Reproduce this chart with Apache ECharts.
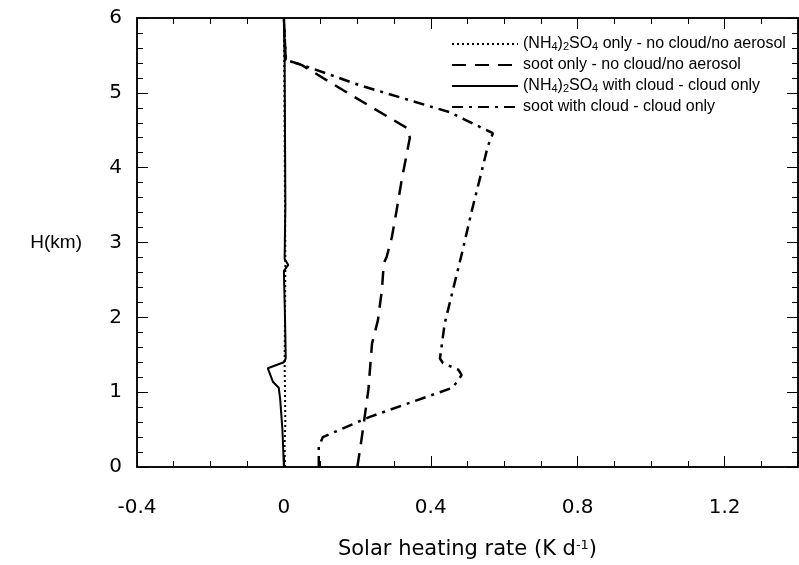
<!DOCTYPE html>
<html>
<head>
<meta charset="utf-8">
<script src="https://cdn.jsdelivr.net/npm/echarts@6/dist/echarts.min.js"></script>
<style>
html,body{margin:0;padding:0;background:#fff;}
#chart{width:799px;height:565px;}
</style>
</head>
<body>
<div id="chart"></div>
<script>
// ---- data ----
var seriesNames = [
  '(NH4)2SO4 only - no cloud/no aerosol',
  'soot only - no cloud/no aerosol',
  '(NH4)2SO4 with cloud - cloud only',
  'soot with cloud - cloud only'
];
var legendRich = [
  '(NH{s|4}){s|2}SO{s|4} only - no cloud/no aerosol',
  'soot only - no cloud/no aerosol',
  '(NH{s|4}){s|2}SO{s|4} with cloud - cloud only',
  'soot with cloud - cloud only'
];
var xTickLabels = ['-0.4', '0', '0.4', '0.8', '1.2'];
var yTickLabels = ['0', '1', '2', '3', '4', '5', '6'];

// (NH4)2SO4 only - no cloud/no aerosol
var ammOnlyH    = [0, 0.3, 0.6, 1.0, 1.4, 2.0, 2.7, 3.5, 4.5, 5.45, 6];
var ammOnlyRate = [0.003, 0.002, 0.004, 0.003, 0.002, 0.003, 0.004, 0.003, 0.002, 0.001, 0];

// soot only - no cloud/no aerosol
var sootOnlyH    = [0, 0.32, 0.67, 1.03, 1.65, 1.96, 2.37, 2.72, 2.81, 3.07, 3.43, 3.84, 4.40, 4.53, 4.95, 5.37, 5.44, 6];
var sootOnlyRate = [0.20, 0.21, 0.22, 0.23, 0.24, 0.256, 0.267, 0.272, 0.28, 0.294, 0.307, 0.321, 0.343, 0.335, 0.19, 0.049, 0.005, 0.0];

// (NH4)2SO4 with cloud - cloud only
var ammCloudH    = [0, 0.5, 0.9, 1.06, 1.14, 1.32, 1.40, 1.45, 2.0, 2.62, 2.7, 2.78, 3.5, 4.5, 5.45, 6];
var ammCloudRate = [0.0, -0.004, -0.01, -0.014, -0.03, -0.044, 0.0, 0.005, 0.003, 0.0, 0.012, 0.002, 0.004, 0.003, 0.002, 0.0];

// soot with cloud - cloud only
var sootCloudH    = [0, 0.27, 0.40, 0.67, 1.06, 1.23, 1.30, 1.39, 1.45, 1.92, 2.46, 2.90, 3.43, 3.84, 4.28, 4.46, 4.74, 5.1, 5.37, 5.44, 6];
var sootCloudRate = [0.095, 0.095, 0.106, 0.234, 0.46, 0.484, 0.475, 0.433, 0.425, 0.438, 0.465, 0.487, 0.512, 0.533, 0.555, 0.569, 0.452, 0.207, 0.052, 0.005, 0.0];

function pairs(rates, hs) {
  var out = [];
  for (var i = 0; i < hs.length; i++) out.push([rates[i], hs[i]]);
  return out;
}

var FONT = '"Liberation Sans", Arial, Helvetica, sans-serif';
var WIDE = '"DejaVu Sans", Verdana, sans-serif';
var BLACK = '#000';

function xAx(pos, interval, tickLen, showLabel) {
  return {
    type: 'value', position: pos, min: -0.4, max: 1.4, interval: interval,
    axisLine: { show: true, onZero: false, lineStyle: { color: BLACK, width: 1.5 } },
    axisTick: { show: true, inside: true, length: tickLen, lineStyle: { color: BLACK, width: 1 } },
    splitLine: { show: false },
    axisLabel: showLabel ? {
      show: true, margin: 31, color: BLACK, fontSize: 20, fontFamily: WIDE,
      showMaxLabel: false,
      formatter: function (v) {
        var i = Math.round((v + 0.4) / 0.4);
        return xTickLabels[i] !== undefined ? xTickLabels[i] : '';
      }
    } : { show: false }
  };
}
function yAx(pos, interval, tickLen, showLabel) {
  return {
    type: 'value', position: pos, min: 0, max: 6, interval: interval,
    axisLine: { show: true, onZero: false, lineStyle: { color: BLACK, width: 1.5 } },
    axisTick: { show: true, inside: true, length: tickLen, lineStyle: { color: BLACK, width: 1 } },
    splitLine: { show: false },
    axisLabel: showLabel ? {
      show: true, margin: 15, color: BLACK, fontSize: 20, fontFamily: WIDE,
      formatter: function (v) { return yTickLabels[Math.round(v)]; }
    } : { show: false }
  };
}

var xAxes = [
  xAx('bottom', 0.4, 11, true),
  xAx('bottom', 0.1, 6, false),
  xAx('top', 0.4, 11, false),
  xAx('top', 0.1, 6, false)
];
xAxes[0].name = 'Solar heating rate (K d{sup|-1})';
xAxes[0].nameLocation = 'middle';
xAxes[0].nameGap = 72;
xAxes[0].nameTextStyle = {
  color: BLACK, fontSize: 21, fontFamily: WIDE,
  rich: { sup: { fontSize: 13, verticalAlign: 'top', color: BLACK, fontFamily: WIDE } }
};

var yAxes = [
  yAx('left', 1, 11, true),
  yAx('left', 0.2, 6, false),
  yAx('right', 1, 11, false),
  yAx('right', 0.2, 6, false)
];
yAxes[0].name = 'H(km)';
yAxes[0].nameLocation = 'middle';
yAxes[0].nameRotate = 0;
yAxes[0].nameGap = 55;
yAxes[0].nameTextStyle = { color: BLACK, fontSize: 19, fontFamily: FONT };

function ser(i, rates, hs, type, w) {
  return {
    name: seriesNames[i], type: 'line', xAxisIndex: 0, yAxisIndex: 0,
    data: pairs(rates, hs), showSymbol: false, symbol: 'none',
    lineStyle: { color: BLACK, width: w, type: type },
    itemStyle: { color: BLACK },
    z: 3
  };
}

var option = {
  animation: false,
  backgroundColor: '#fff',
  grid: { left: 137, right: 1, top: 18, bottom: 98, containLabel: false },
  xAxis: xAxes,
  yAxis: yAxes,
  legend: {
    orient: 'vertical', left: 446, top: 31,
    itemWidth: 66, itemHeight: 14, itemGap: 5,
    data: seriesNames,
    itemStyle: { opacity: 0, color: 'rgba(0,0,0,0)', borderWidth: 0 },
    formatter: function (name) { return legendRich[seriesNames.indexOf(name)]; },
    textStyle: {
      color: BLACK, fontSize: 16, fontFamily: FONT, lineHeight: 16,
      rich: { s: { fontSize: 11, verticalAlign: 'bottom', lineHeight: 12, color: BLACK, fontFamily: FONT } }
    }
  },
  series: [
    ser(0, ammOnlyRate, ammOnlyH, [2, 3], 2),
    ser(1, sootOnlyRate, sootOnlyH, [14, 9], 2.5),
    ser(2, ammCloudRate, ammCloudH, 'solid', 2),
    ser(3, sootCloudRate, sootCloudH, [11, 6, 3, 6], 2.5)
  ]
};
var chart = echarts.init(document.getElementById('chart'), null, { renderer: 'canvas' });
chart.setOption(option);
</script>
</body>
</html>
